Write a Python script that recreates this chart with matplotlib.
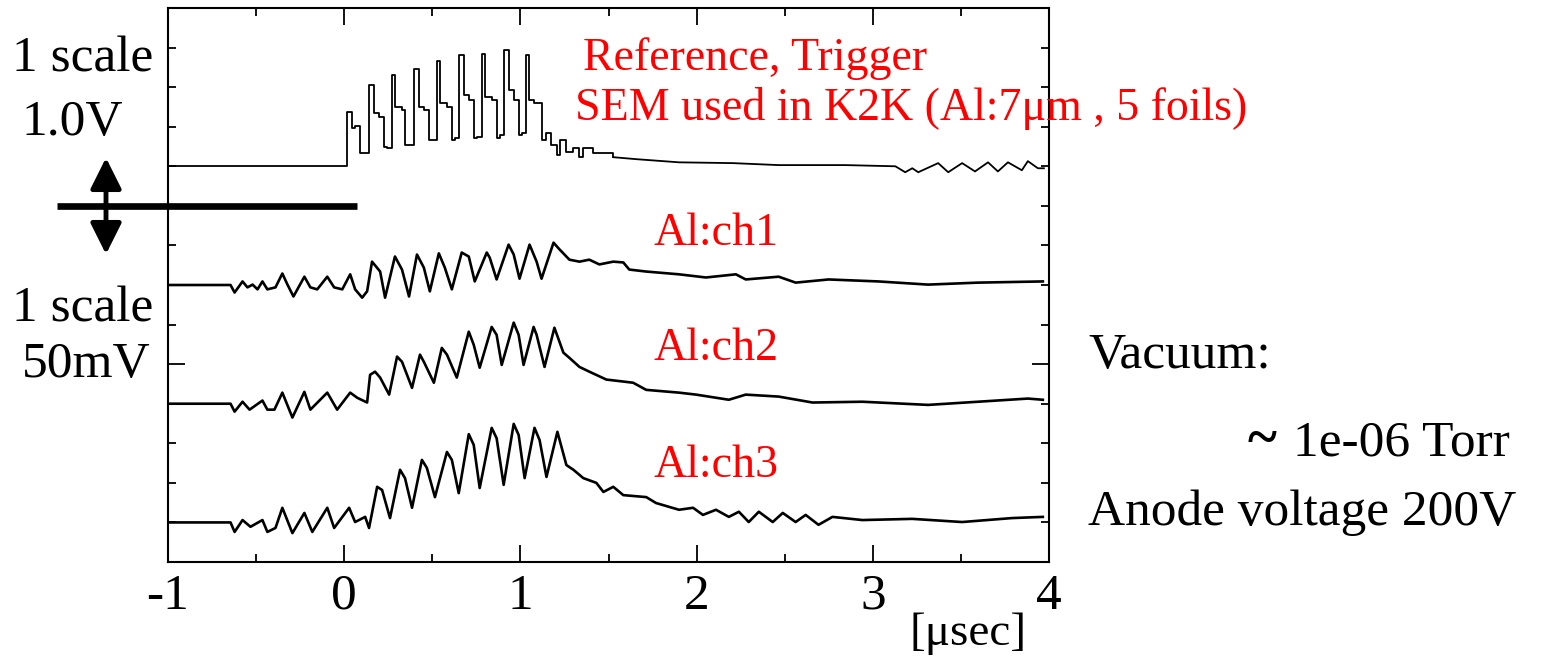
import matplotlib
matplotlib.use("Agg")
import matplotlib.pyplot as plt
import matplotlib.ticker as mticker
from matplotlib.patches import FancyArrowPatch

plt.rcParams["font.family"] = ["Liberation Serif", "DejaVu Serif"]
plt.rcParams["axes.unicode_minus"] = False

# time axis in usec, amplitude in scale divisions above each trace's baseline
ref_t = [-1.0, -0.011, 0.017, 0.045, 0.062, 0.090, 0.119, 0.141, 0.170, 0.198, 0.226, 0.243,
         0.271, 0.288, 0.328, 0.345, 0.373, 0.396, 0.424, 0.452, 0.481, 0.498, 0.526, 0.543,
         0.583, 0.611, 0.628, 0.650, 0.679, 0.707, 0.735, 0.752, 0.781, 0.798, 0.837, 0.865,
         0.882, 0.905, 0.933, 0.962, 0.990, 1.007, 1.029, 1.046, 1.080, 1.120, 1.148, 1.176,
         1.205, 1.222, 1.261, 1.301, 1.335, 1.357, 1.414, 1.527, 1.657, 1.900, 2.206, 2.466,
         2.845, 3.128, 3.184, 3.224, 3.258, 3.371, 3.428, 3.507, 3.580, 3.654, 3.710, 3.767,
         3.846, 3.880, 3.937, 3.971]
ref_v = [0.0, 0.0, 1.36, 0.98, 1.01, 0.33, 0.33, 2.05, 1.34, 1.24, 0.48, 0.45,
         2.30, 1.49, 1.41, 0.53, 0.53, 2.47, 1.49, 1.41, 0.66, 0.66, 2.65, 1.59,
         1.49, 0.66, 0.71, 2.80, 1.79, 1.67, 0.71, 0.73, 2.85, 1.74, 1.67, 0.71,
         0.78, 2.95, 1.92, 1.67, 0.78, 0.83, 2.80, 1.67, 1.59, 0.66, 0.83, 0.53,
         0.28, 0.66, 0.35, 0.45, 0.23, 0.45, 0.33, 0.23, 0.18, 0.10, 0.08, 0.03,
         0.03, 0.0, -0.15, -0.05, -0.15, 0.08, -0.15, 0.08, -0.13, 0.10, -0.13, 0.10,
         -0.10, 0.13, -0.05, -0.05]

ch1_t = [-1.0, -0.645, -0.622, -0.577, -0.549, -0.520, -0.492, -0.464, -0.436, -0.390, -0.351,
         -0.322, -0.288, -0.226, -0.192, -0.153, -0.096, -0.057, -0.011, 0.034, 0.062, 0.102,
         0.130, 0.158, 0.204, 0.232, 0.288, 0.328, 0.368, 0.413, 0.452, 0.486, 0.537, 0.571,
         0.611, 0.667, 0.707, 0.741, 0.809, 0.826, 0.865, 0.933, 0.962, 0.995, 1.052, 1.092,
         1.120, 1.188, 1.222, 1.278, 1.335, 1.391, 1.448, 1.527, 1.584, 1.618, 1.714, 1.900,
         2.053, 2.223, 2.279, 2.466, 2.562, 2.749, 3.032, 3.314, 3.597, 3.965]
ch1_v = [0.0, 0.0, -0.19, 0.09, -0.06, 0.01, -0.11, 0.09, -0.11, -0.06, 0.29,
         0.01, -0.29, 0.21, -0.06, -0.11, 0.21, -0.06, -0.11, 0.27, -0.11, -0.32,
         -0.16, 0.59, 0.34, -0.32, 0.72, 0.39, -0.29, 0.77, 0.44, -0.16, 0.80, 0.44,
         -0.11, 0.82, 0.72, 0.09, 0.82, 0.69, 0.14, 1.02, 0.77, 0.16, 1.02, 0.59,
         0.16, 1.07, 0.90, 0.64, 0.59, 0.64, 0.52, 0.59, 0.57, 0.39, 0.34, 0.27,
         0.19, 0.27, 0.14, 0.21, 0.06, 0.14, 0.09, 0.01, 0.06, 0.09]

ch2_t = [-1.0, -0.645, -0.622, -0.577, -0.537, -0.464, -0.436, -0.396, -0.351, -0.294, -0.226,
         -0.192, -0.096, -0.040, 0.034, 0.074, 0.130, 0.147, 0.175, 0.204, 0.255, 0.300,
         0.328, 0.385, 0.430, 0.452, 0.509, 0.554, 0.583, 0.639, 0.707, 0.735, 0.769,
         0.837, 0.865, 0.894, 0.962, 0.990, 1.018, 1.075, 1.092, 1.137, 1.193, 1.244,
         1.278, 1.335, 1.391, 1.488, 1.584, 1.640, 1.714, 1.900, 1.997, 2.183, 2.279,
         2.466, 2.658, 2.941, 3.314, 3.597, 3.880, 3.965]
ch2_v = [0.0, 0.0, -0.20, 0.05, -0.15, 0.08, -0.15, -0.15, 0.28, -0.35, 0.30,
         -0.15, 0.28, -0.15, 0.28, 0.15, 0.03, 0.73, 0.81, 0.66, 0.23, 1.19,
         1.06, 0.40, 1.24, 1.06, 0.53, 1.41, 1.24, 0.66, 1.82, 1.49, 0.91,
         1.94, 1.74, 0.98, 2.05, 1.74, 0.98, 1.94, 1.74, 0.93, 1.92, 1.29,
         1.16, 0.93, 0.81, 0.61, 0.56, 0.53, 0.35, 0.28, 0.23, 0.10, 0.23,
         0.18, 0.03, 0.05, -0.03, 0.05, 0.13, 0.10]

ch3_t = [-1.0, -0.645, -0.622, -0.577, -0.532, -0.464, -0.436, -0.390, -0.351, -0.294, -0.226,
         -0.181, -0.096, -0.057, 0.028, 0.062, 0.119, 0.141, 0.187, 0.215, 0.260, 0.317,
         0.345, 0.385, 0.441, 0.469, 0.515, 0.583, 0.611, 0.650, 0.707, 0.735, 0.769,
         0.837, 0.865, 0.905, 0.962, 0.990, 1.024, 1.080, 1.109, 1.148, 1.210, 1.261,
         1.301, 1.357, 1.431, 1.471, 1.527, 1.584, 1.714, 1.770, 1.900, 1.980, 2.036,
         2.110, 2.183, 2.240, 2.296, 2.353, 2.432, 2.489, 2.562, 2.619, 2.692, 2.771,
         2.941, 3.224, 3.507, 3.790, 3.965]
ch3_v = [0.0, 0.0, -0.24, 0.06, -0.11, 0.06, -0.24, -0.14, 0.37, -0.27, 0.24,
         -0.24, 0.37, -0.14, 0.37, 0.01, 0.14, -0.14, 0.90, 0.82, 0.11, 1.33,
         1.12, 0.37, 1.58, 1.38, 0.64, 1.78, 1.58, 0.74, 2.23, 1.96, 0.87,
         2.39, 2.13, 0.95, 2.49, 2.21, 1.12, 2.39, 2.08, 1.15, 2.29, 1.45,
         1.33, 1.12, 1.00, 0.77, 0.90, 0.69, 0.64, 0.49, 0.32, 0.37, 0.19,
         0.32, 0.14, 0.27, 0.01, 0.27, 0.01, 0.24, 0.01, 0.19, -0.06, 0.14,
         0.06, 0.09, 0.01, 0.11, 0.14]

ch_traces = [(ch1_t, ch1_v, 7), (ch2_t, ch2_v, 4), (ch3_t, ch3_v, 1)]
ref_base = 10
ref_step_end = 55   # reference pulse train drawn stepwise, slow tail as a plain line

labels_red = [("Al:ch1", 653, 245), ("Al:ch2", 653, 360), ("Al:ch3", 653, 477)]

W, H = 1543, 660
fig = plt.figure(figsize=(W / 100, H / 100), dpi=100)
ax = fig.add_axes([168 / W, 1 - 562 / H, 881 / W, 554 / H])

ax.plot(ref_t[:ref_step_end + 1], [ref_base + a for a in ref_v[:ref_step_end + 1]],
        color="black", lw=1.3, drawstyle="steps-post")
ax.plot(ref_t[ref_step_end:], [ref_base + a for a in ref_v[ref_step_end:]],
        color="black", lw=1.3)
for t, v, base in ch_traces:
    ax.plot(t, [base + a for a in v], color="black", lw=1.9, solid_joinstyle="round")

ax.set_xlim(-1, 4)
ax.set_ylim(0, 14)
ax.set_xticks([-1, 0, 1, 2, 3, 4])
ax.xaxis.set_minor_locator(mticker.MultipleLocator(0.5))
ax.set_yticks([5])
ax.set_yticklabels([])
ax.yaxis.set_minor_locator(mticker.MultipleLocator(1))
ax.tick_params(which="both", direction="in", top=True, right=True, width=1.3)
ax.tick_params(which="major", length=12)
ax.tick_params(which="minor", length=6)
ax.tick_params(axis="x", labelsize=37, pad=8)
for s in ax.spines.values():
    s.set_linewidth(1.5)

# thick separator and double arrow on the left
ax.plot([-1.63, 0.07], [9, 9], color="black", lw=4.8, clip_on=False, solid_capstyle="butt")
arr = FancyArrowPatch((106, 660 - 155), (106, 660 - 257), transform=None,
                      arrowstyle="<|-|>,head_length=1.0,head_width=0.5",
                      mutation_scale=19, color="black", lw=3.5)
fig.add_artist(arr)


def ftext(x, y, s, **kw):
    fig.text(x / W, 1 - y / H, s, va="baseline", **kw)


ftext(83, 72, "1 scale", fontsize=37, ha="center")
ftext(72, 135, "1.0V", fontsize=37, ha="center")
ftext(83, 322, "1 scale", fontsize=37, ha="center")
ftext(86, 377, "50mV", fontsize=37, ha="center")

ftext(583, 70, "Reference, Trigger", fontsize=33, color="red")
ftext(575, 120, "SEM used in K2K (Al:7\u03bcm , 5 foils)", fontsize=33, color="red")
for s, x, y in labels_red:
    ftext(x, y, s, fontsize=33, color="red")

ftext(1088, 368, "Vacuum:", fontsize=37)
ftext(1262, 455, "~", fontsize=40, ha="center", fontweight="bold")
ftext(1510, 455, "1e-06 Torr", fontsize=37, ha="right")
ftext(1088, 525, "Anode voltage 200V", fontsize=37)
ftext(968, 645, "[\u03bcsec]", fontsize=34, ha="center")

fig.savefig("out.png", dpi=100)
